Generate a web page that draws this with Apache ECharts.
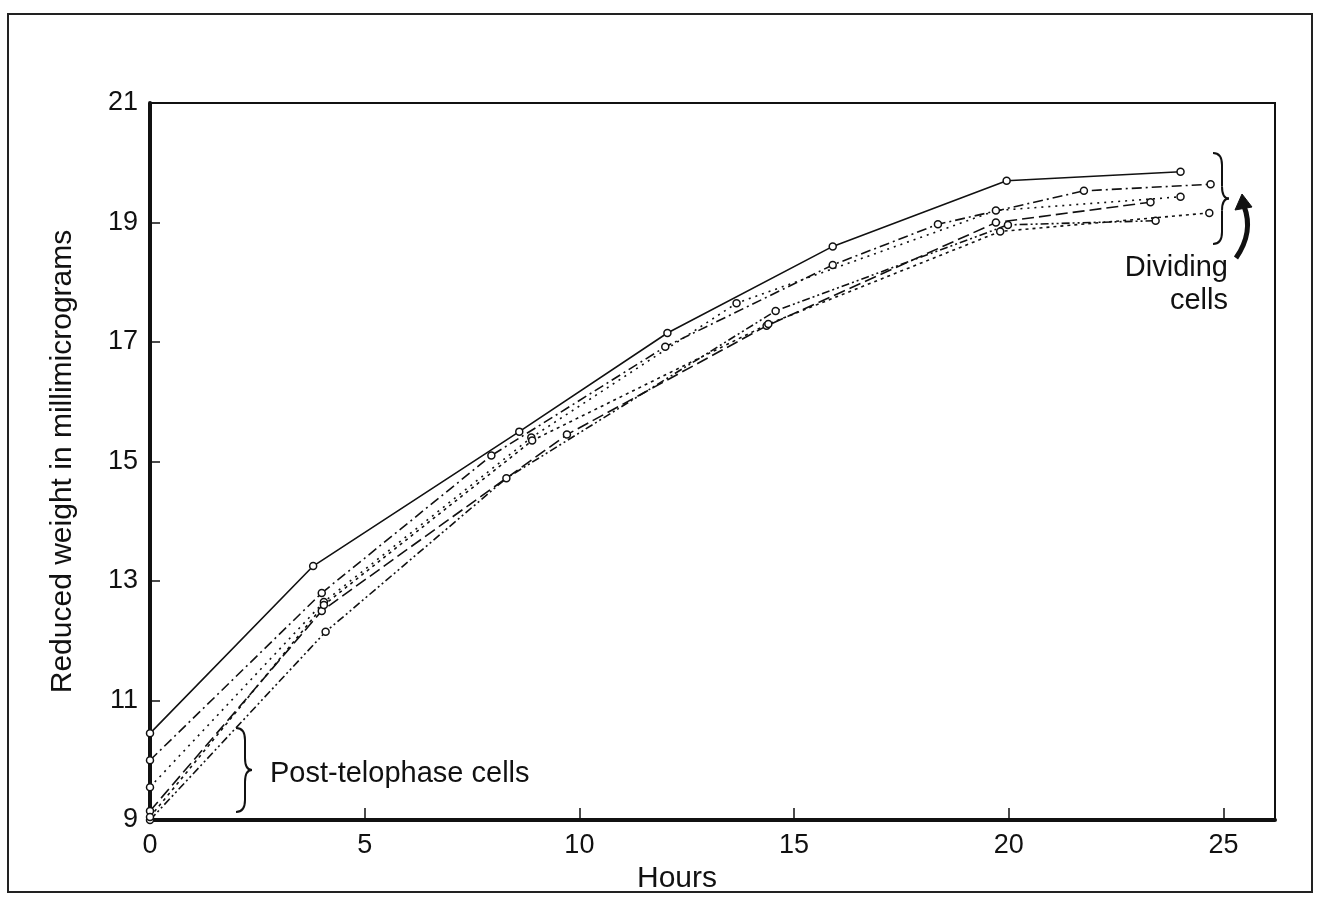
<!DOCTYPE html>
<html>
<head>
<meta charset="utf-8">
<script src="https://cdn.jsdelivr.net/npm/echarts@6/dist/echarts.min.js"></script>
<style>html,body{margin:0;padding:0;background:#fff;}#chart{width:1320px;height:903px;}</style>
</head>
<body>
<div id="chart"></div>
<script>
// ---- data ----
const xTicks = [0, 5, 10, 15, 20, 25];
const yTicks = [9, 11, 13, 15, 17, 19, 21];

const hoursA = [0, 3.8, 8.6, 12.05, 15.9, 19.95, 24.0];
const weightA = [10.45, 13.25, 15.5, 17.15, 18.6, 19.7, 19.85];

const hoursB = [0, 4.0, 7.95, 12.0, 15.9, 18.35, 21.75, 24.7];
const weightB = [10.0, 12.8, 15.1, 16.92, 18.29, 18.97, 19.53, 19.64];

const hoursC = [0, 4.05, 8.88, 13.66, 19.7, 24.0];
const weightC = [9.55, 12.65, 15.4, 17.65, 19.2, 19.43];

const hoursD = [0, 4.0, 9.71, 14.36, 19.7, 23.3];
const weightD = [9.15, 12.5, 15.45, 17.27, 19.0, 19.34];

const hoursE = [0, 4.09, 8.3, 14.57, 19.98, 23.42];
const weightE = [9.0, 12.15, 14.72, 17.52, 18.96, 19.03];

const hoursF = [0, 4.05, 8.9, 14.4, 19.8, 24.67];
const weightF = [9.05, 12.6, 15.35, 17.3, 18.85, 19.16];

const seriesDefs = [
  { name: 'A', x: hoursA, y: weightA, dash: 'solid' },
  { name: 'B', x: hoursB, y: weightB, dash: [10, 4, 2, 4] },
  { name: 'C', x: hoursC, y: weightC, dash: [2, 5] },
  { name: 'D', x: hoursD, y: weightD, dash: [12, 5] },
  { name: 'E', x: hoursE, y: weightE, dash: [8, 3, 2, 3, 2, 3] },
  { name: 'F', x: hoursF, y: weightF, dash: [3, 4] }
];

const chart = echarts.init(document.getElementById('chart'));
const FONT = 'Liberation Sans, Arial, sans-serif';
const INK = '#111';

// right-facing curly brace built from lines and quadratic curves
function brace(x, yTop, yBot, w) {
  const ym = (yTop + yBot) / 2, r = 12;
  const st = { stroke: INK, lineWidth: 2, fill: 'none' };
  const xs = x + w;
  return [
    { type: 'bezierCurve', shape: { x1: x, y1: yTop, cpx1: xs, cpy1: yTop, x2: xs, y2: yTop + r }, style: st },
    { type: 'line', shape: { x1: xs, y1: yTop + r, x2: xs, y2: ym - r }, style: st },
    { type: 'bezierCurve', shape: { x1: xs, y1: ym - r, cpx1: xs, cpy1: ym, x2: xs + 7, y2: ym }, style: st },
    { type: 'bezierCurve', shape: { x1: xs + 7, y1: ym, cpx1: xs, cpy1: ym, x2: xs, y2: ym + r }, style: st },
    { type: 'line', shape: { x1: xs, y1: ym + r, x2: xs, y2: yBot - r }, style: st },
    { type: 'bezierCurve', shape: { x1: xs, y1: yBot - r, cpx1: xs, cpy1: yBot, x2: x, y2: yBot }, style: st }
  ];
}

const option = {
  backgroundColor: '#fff',
  animation: false,
  grid: { left: 150, right: 45, top: 103, bottom: 83, show: true, borderColor: INK, borderWidth: 2, backgroundColor: 'transparent' },
  xAxis: {
    type: 'value', min: 0, max: 26.2, interval: 5,
    axisLine: { lineStyle: { color: INK, width: 4 } },
    axisTick: { inside: true, length: 12, lineStyle: { color: INK, width: 1.5 } },
    axisLabel: { showMaxLabel: false, color: INK, fontSize: 27, fontFamily: FONT, margin: 12,
                 formatter: v => xTicks.includes(v) ? String(v) : '' },
    splitLine: { show: false }
  },
  yAxis: {
    type: 'value', min: 9, max: 21, interval: 2,
    name: 'Reduced weight in millimicrograms', nameLocation: 'middle', nameGap: 72, nameRotate: 90,
    nameTextStyle: { color: INK, fontSize: 30, fontFamily: FONT, padding: [0, 0, 0, 0] },
    axisLine: { lineStyle: { color: INK, width: 4 } },
    axisTick: { inside: true, length: 10, lineStyle: { color: INK, width: 1.5 } },
    axisLabel: { color: INK, fontSize: 27, fontFamily: FONT, margin: 12, formatter: v => yTicks.includes(v) ? String(v) : '' },
    splitLine: { show: false }
  },
  series: seriesDefs.map(s => ({
    type: 'line', name: s.name,
    data: s.x.map((h, i) => [h, s.y[i]]),
    symbol: 'circle', symbolSize: 7,
    showSymbol: true,
    itemStyle: { color: '#fff', borderColor: INK, borderWidth: 1.5 },
    lineStyle: { color: INK, width: 1.6, type: s.dash },
    z: 3
  })),
  graphic: [
    { type: 'rect', shape: { x: 8, y: 14, width: 1304, height: 878 }, style: { fill: 'none', stroke: '#222', lineWidth: 2 }, z: 0 },
    { type: 'text', x: 637, y: 864, style: { text: 'Hours', fill: INK, fontSize: 30, fontFamily: FONT } },
    ...brace(236, 728, 812, 9),
    { type: 'text', x: 270, y: 759, style: { text: 'Post-telophase cells', fill: INK, fontSize: 29, fontFamily: FONT } },
    ...brace(1213, 153, 244, 9),
    { type: 'bezierCurve', shape: { x1: 1236, y1: 258, cpx1: 1254, cpy1: 232, x2: 1244, y2: 206 }, style: { fill: 'none', stroke: INK, lineWidth: 5 } },
    { type: 'polygon', shape: { points: [[1235, 210], [1242, 194], [1252, 207]] }, style: { fill: INK, stroke: INK, lineWidth: 1 } },
    { type: 'text', x: 1228, y: 253, style: { text: 'Dividing', fill: INK, fontSize: 29, fontFamily: FONT, align: 'right' } },
    { type: 'text', x: 1228, y: 286, style: { text: 'cells', fill: INK, fontSize: 29, fontFamily: FONT, align: 'right' } }
  ]
};
chart.setOption(option);
</script>
</body>
</html>
